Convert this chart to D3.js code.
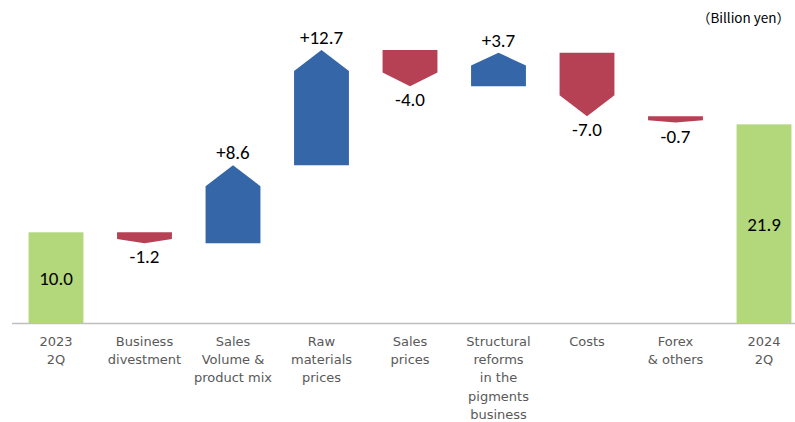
<!DOCTYPE html>
<html>
<head>
<meta charset="utf-8">
<script src="https://cdn.jsdelivr.net/npm/d3@7"></script>
<style>
  body { margin: 0; background: #fff; }
</style>
</head>
<body>
<div class="canvas"></div>
<script>
// data
const categories = ['2023 2Q', 'Business divestment', 'Sales Volume & product mix', 'Raw materials prices',
                    'Sales prices', 'Structural reforms', 'Costs', 'Forex & others', '2024 2Q'];
const tickLabels = [
    ['2023', '2Q'],
    ['Business', 'divestment'],
    ['Sales', 'Volume &', 'product mix'],
    ['Raw', 'materials', 'prices'],
    ['Sales', 'prices'],
    ['Structural', 'reforms', 'in the', 'pigments', 'business'],
    ['Costs'],
    ['Forex', '& others'],
    ['2024', '2Q']
];
const values = [10.0, -1.2, 8.6, 12.7, -4.0, 3.7, -7.0, -0.7, 21.9];
const isTotal = [true, false, false, false, false, false, false, false, true];
const unitLabel = '\uFF08Billion yen\uFF09';

const width = 795, height = 422;
const baseY = 323;

const svg = d3.select('.canvas')
    .append('svg')
    .attr('width', width)
    .attr('height', height);

const x = d3.scaleBand()
    .domain(categories)
    .range([11.75, 808.25])
    .paddingInner(0.38)
    .paddingOuter(0.19);

const y = d3.scaleLinear()
    .domain([0, 30])
    .range([baseY, baseY - 30 * 9.07]);

// running totals
let run = 0;
const bars = values.map((v, i) => {
    let start, end;
    if (isTotal[i]) { start = 0; end = v; run = v; }
    else { start = run; end = run + v; run = end; }
    return { cat: categories[i], v, start, end, total: isTotal[i] };
});

const colors = { total: '#b3d77b', up: '#3566a8', down: '#b64054' };

// x axis
const xAxisGroup = svg.append('g')
    .attr('transform', 'translate(0,' + baseY + ')')
    .call(d3.axisBottom(x).tickSize(0).tickSizeOuter(0));
xAxisGroup.select('.domain')
    .attr('d', 'M12,0.5H795')
    .attr('stroke', '#bfbfbf')
    .attr('stroke-width', 1.5);
xAxisGroup.selectAll('.tick text').each(function(d, i) {
    const t = d3.select(this).text(null)
        .attr('y', 0)
        .attr('dy', null)
        .attr('font-family', '"DejaVu Sans", Verdana, sans-serif')
        .attr('font-size', 13)
        .attr('fill', '#595959');
    tickLabels[i].forEach((line, j) => {
        t.append('tspan').attr('x', 0).attr('y', 23 + j * 18.2).text(line);
    });
});

// bars
const shapes = svg.append('g');
const fmt = v => d3.format('.1f')(v).replace('\u2212', '-');
const valueFont = 'Carlito, Calibri, "Liberation Sans", sans-serif';
bars.forEach(b => {
    const x0 = x(b.cat), bw = x.bandwidth(), cx = x0 + bw / 2;
    if (b.total) {
        shapes.append('rect')
            .attr('x', x0).attr('y', y(b.end))
            .attr('width', bw).attr('height', y(0) - y(b.end))
            .attr('fill', colors.total);
        shapes.append('text')
            .attr('x', cx).attr('y', (y(b.end) + y(0)) / 2 + 7)
            .attr('text-anchor', 'middle')
            .attr('font-family', valueFont)
            .attr('font-size', 19)
            .attr('fill', '#000')
            .text(fmt(b.v));
        return;
    }
    const yTop = y(Math.max(b.start, b.end)), yBot = y(Math.min(b.start, b.end));
    const h = yBot - yTop;
    const p = Math.min(0.38 * h, 21);
    let pts, label, ly;
    if (b.v > 0) {
        pts = [[x0, yBot], [x0, yTop + p], [cx, yTop], [x0 + bw, yTop + p], [x0 + bw, yBot]];
        label = '+' + fmt(b.v);
        ly = yTop - 6;
    } else {
        pts = [[x0, yTop], [x0, yBot - p], [cx, yBot], [x0 + bw, yBot - p], [x0 + bw, yTop]];
        label = fmt(b.v);
        ly = yBot + 20;
    }
    shapes.append('path')
        .attr('d', d3.line()(pts) + 'Z')
        .attr('fill', b.v > 0 ? colors.up : colors.down);
    shapes.append('text')
        .attr('x', cx).attr('y', ly)
        .attr('text-anchor', 'middle')
        .attr('font-family', valueFont)
        .attr('font-size', 19)
        .attr('fill', '#000')
        .text(label);
});

// unit label
svg.append('text')
    .attr('x', 790).attr('y', 23)
    .attr('text-anchor', 'end')
    .attr('font-family', '"Noto Sans CJK JP", "DejaVu Sans", sans-serif')
    .attr('font-size', 13.5)
    .attr('fill', '#000')
    .text(unitLabel);
</script>
</body>
</html>
